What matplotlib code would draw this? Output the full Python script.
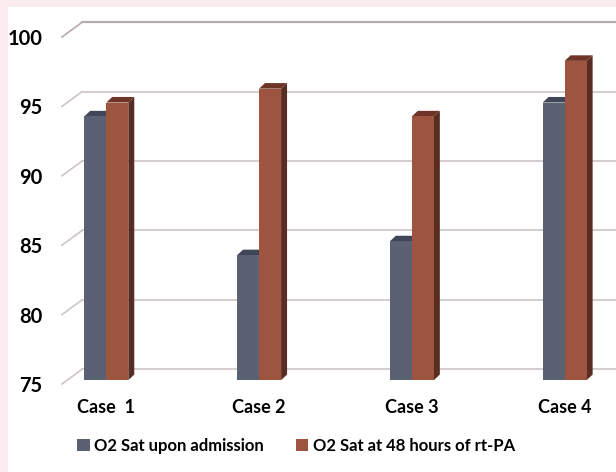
import matplotlib
matplotlib.use("Agg")
import matplotlib.pyplot as plt
from matplotlib.patches import Polygon, Rectangle, Patch

cases = ["Case  1", "Case 2", "Case 3", "Case 4"]
sat_admission = [94, 84, 85, 95]
sat_48h = [95, 96, 94, 98]
series_names = ["O2 Sat upon admission", "O2 Sat at 48 hours of rt-PA"]
y_ticks = [75, 80, 85, 90, 95, 100]

FRONT = ["#596173", "#9d5540"]
TOP = ["#3f4657", "#6e3526"]
SIDE = ["#3a4050", "#582c22"]
GRID = "#cdc5c6"

W, H = 616, 472
plt.rcParams["font.family"] = ["Lato", "DejaVu Sans"]
plt.rcParams["font.weight"] = "bold"

fig = plt.figure(figsize=(W / 100, H / 100), dpi=100)
fig.patch.set_facecolor("#fbecee")
fig.add_artist(Rectangle((8 / W, 0), 1, (H - 7) / H, transform=fig.transFigure,
                         facecolor="white", edgecolor="none", zorder=0))

# axes = front wall of the 3d box
ax = fig.add_axes([62 / W, (H - 384) / H, (W - 62) / W, (384 - 37) / H])
ax.set_facecolor("none")
xl, xr = -0.29, 3.336
ax.set_xlim(xl, xr)
ax.set_ylim(75, 100)
for s in ax.spines.values():
    s.set_visible(False)

# depth offsets (data units)
dxw, dyw = 0.131, 1.06     # back wall
dxb, dyb = 0.039, 0.40     # bar depth
fo = 0.28                  # bar front face sits a bit behind the front wall
w = 0.144

for g in y_ticks:
    col = "#b8a9ab" if g == y_ticks[-1] else GRID
    ax.plot([xl, xl + dxw], [g, g + dyw], color=col, lw=1.2, clip_on=False, zorder=1)
    ax.plot([xl + dxw, xr + 0.1], [g + dyw, g + dyw], color=col,
            lw=1.6 if g == y_ticks[-1] else 1.2, clip_on=False, zorder=1)

for i in range(len(cases)):
    for j, vals in enumerate([sat_admission, sat_48h]):
        v = vals[i]
        x0 = i - w + j * w
        b, t = 75 + fo, v + fo
        z = 2 + i * 2 + j
        ax.add_patch(Polygon([(x0 + w, b), (x0 + w + dxb, b + dyb),
                              (x0 + w + dxb, t + dyb), (x0 + w, t)],
                             closed=True, facecolor=SIDE[j], edgecolor="none",
                             clip_on=False, zorder=z))
        ax.add_patch(Polygon([(x0, t), (x0 + w, t), (x0 + w + dxb, t + dyb),
                              (x0 + dxb, t + dyb)],
                             closed=True, facecolor=TOP[j], edgecolor="none",
                             clip_on=False, zorder=z))
        ax.add_patch(Rectangle((x0, b), w, t - b, facecolor=FRONT[j],
                               edgecolor="none", clip_on=False, zorder=z))

ax.set_yticks(y_ticks)
ax.set_yticklabels([str(t) for t in y_ticks], fontsize=14.5, fontweight="bold")
ax.set_xticks(range(len(cases)))
ax.set_xticklabels(cases, fontsize=13, fontweight="bold")
ax.tick_params(axis="y", length=0, pad=14)
ax.tick_params(axis="x", length=0, pad=11)

handles = [Patch(facecolor=FRONT[k], edgecolor="none", label=series_names[k]) for k in range(2)]
fig.legend(handles=handles, loc="center left", bbox_to_anchor=(62 / W, (H - 446) / H),
           ncol=2, frameon=False, handlelength=0.75, handleheight=0.75,
           handletextpad=0.3, columnspacing=1.9,
           prop={"size": 12, "weight": "bold"})

fig.savefig("out.png", dpi=100)
